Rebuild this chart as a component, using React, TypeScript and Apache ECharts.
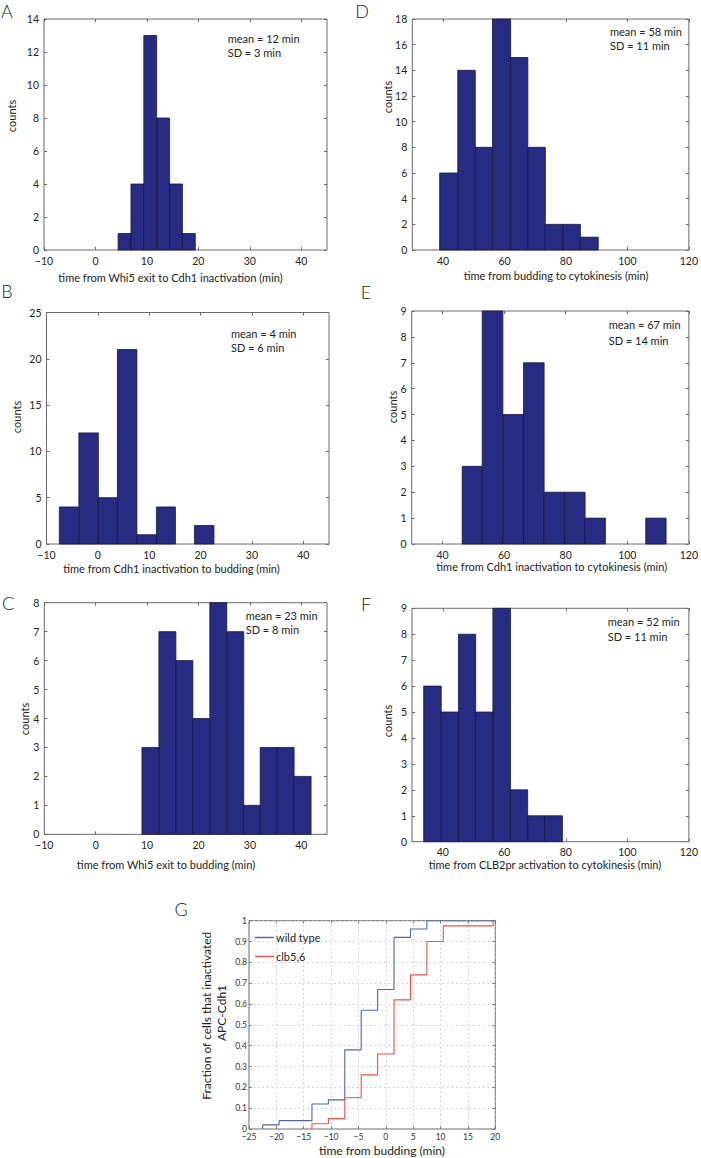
import React, { useEffect, useRef } from 'react';
import * as echarts from 'echarts';

const FONT = 'Lato, "Noto Sans", sans-serif';
const BAR = '#272c82';
const EDGE = '#15173f';
const SPINE = '#6a6a6a';
const TXT = '#222222';

// ---- histogram data (bin edges and counts) ----
const aEdges = [4.4, 6.9, 9.4, 11.9, 14.4, 16.9, 19.4];
const aCounts = [1, 4, 13, 8, 4, 1];
const bEdges = [-7.5, -3.7, 0.1, 3.8, 7.6, 11.4, 15.1, 18.8, 22.6];
const bCounts = [4, 12, 5, 21, 1, 4, 0, 2];
const cEdges = [9.0, 12.3, 15.6, 18.9, 22.2, 25.5, 28.8, 32.0, 35.3, 38.6, 41.9];
const cCounts = [3, 7, 6, 4, 8, 7, 1, 3, 3, 2];
const dEdges = [38.9, 44.8, 50.5, 56.1, 62.0, 67.6, 73.3, 79.0, 84.7, 90.5];
const dCounts = [6, 14, 8, 18, 15, 8, 2, 2, 1];
const eEdges = [46.4, 52.9, 59.6, 66.3, 73.0, 79.6, 86.3, 92.9, 99.4, 106.0, 112.6];
const eCounts = [3, 9, 5, 7, 2, 2, 1, 0, 0, 1];
const fEdges = [33.8, 39.5, 45.1, 50.7, 56.3, 62.0, 67.6, 73.1, 78.9];
const fCounts = [6, 5, 8, 5, 9, 2, 1, 1];

// tick labels
const leftXTicks = [-10, 0, 10, 20, 30, 40];
const rightXTicks = [40, 60, 80, 100, 120];

// panel G cumulative step data
const wtX = [-22.5, -22.5, -19.5, -13.5, -10.5, -7.5, -4.5, -1.5, 1.5, 4.5, 7.5, 20];
const wtY = [0, 0.02, 0.04, 0.12, 0.14, 0.38, 0.57, 0.67, 0.92, 0.96, 1.0, 1.0];
const clbX = [-13.5, -13.5, -10.5, -7.5, -4.5, -1.5, 1.5, 4.5, 7.5, 10.5, 19.6, 20];
const clbY = [0, 0.025, 0.05, 0.15, 0.26, 0.36, 0.62, 0.74, 0.9, 0.975, 1.0, 1.0];

const minus = (v: number) => String(v).replace('-', '\u2212');

type Panel = {
  edges: number[];
  counts: number[];
  grid: { left: number; top: number; width: number; height: number };
  xMin: number;
  xMax: number;
  xTicks: number[];
  yMax: number;
  yInterval: number;
};

const panels: Panel[] = [
  { edges: aEdges, counts: aCounts, grid: { left: 44, top: 19, width: 283, height: 231 }, xMin: -10, xMax: 45, xTicks: leftXTicks, yMax: 14, yInterval: 2 },
  { edges: bEdges, counts: bCounts, grid: { left: 46.5, top: 312.5, width: 282.5, height: 231.5 }, xMin: -10, xMax: 45, xTicks: leftXTicks, yMax: 25, yInterval: 5 },
  { edges: cEdges, counts: cCounts, grid: { left: 44.3, top: 602.7, width: 282.7, height: 231.6 }, xMin: -10, xMax: 45, xTicks: leftXTicks, yMax: 8, yInterval: 1 },
  { edges: dEdges, counts: dCounts, grid: { left: 412.3, top: 19, width: 279.4, height: 231 }, xMin: 30, xMax: 120, xTicks: rightXTicks, yMax: 18, yInterval: 2 },
  { edges: eEdges, counts: eCounts, grid: { left: 411.7, top: 311, width: 280.6, height: 233 }, xMin: 30, xMax: 120, xTicks: rightXTicks, yMax: 9, yInterval: 1 },
  { edges: fEdges, counts: fCounts, grid: { left: 412, top: 608.3, width: 277.3, height: 233.4 }, xMin: 30, xMax: 120, xTicks: rightXTicks, yMax: 9, yInterval: 1 },
];

function buildOption() {
  const grid: any[] = [];
  const xAxis: any[] = [];
  const yAxis: any[] = [];
  const series: any[] = [];

  const tick = { show: true, inside: true, length: 3, lineStyle: { color: SPINE, width: 1 } };
  const noLine = { show: false, onZero: false };

  panels.forEach((p, i) => {
    grid.push({ ...p.grid, show: true, borderColor: SPINE, borderWidth: 1, backgroundColor: 'transparent', z: 0 });
    xAxis.push({
      type: 'value', gridIndex: i, position: 'bottom', min: p.xMin, max: p.xMax,
      axisLine: noLine, splitLine: { show: false },
      axisTick: { ...tick, customValues: p.xTicks },
      axisLabel: { customValues: p.xTicks, formatter: minus, fontFamily: FONT, fontSize: 10.5, color: TXT, margin: 5 },
    });
    xAxis.push({
      type: 'value', gridIndex: i, position: 'top', min: p.xMin, max: p.xMax,
      axisLine: noLine, splitLine: { show: false },
      axisTick: { ...tick, customValues: p.xTicks }, axisLabel: { show: false },
    });
    yAxis.push({
      type: 'value', gridIndex: i, position: 'left', min: 0, max: p.yMax, interval: p.yInterval,
      axisLine: noLine, splitLine: { show: false }, axisTick: tick,
      axisLabel: { fontFamily: FONT, fontSize: 10.5, color: TXT, margin: 5 },
    });
    yAxis.push({
      type: 'value', gridIndex: i, position: 'right', min: 0, max: p.yMax, interval: p.yInterval,
      axisLine: noLine, splitLine: { show: false }, axisTick: tick, axisLabel: { show: false },
    });
    series.push({
      type: 'custom',
      xAxisIndex: 2 * i,
      yAxisIndex: 2 * i,
      clip: false,
      encode: { x: [0, 1], y: 2 },
      data: p.counts.map((c, k) => [p.edges[k], p.edges[k + 1], c]).filter((d) => d[2] > 0),
      renderItem: (params: any, api: any) => {
        const p0 = api.coord([api.value(0), api.value(2)]);
        const p1 = api.coord([api.value(1), 0]);
        return {
          type: 'rect',
          shape: { x: p0[0], y: p0[1], width: p1[0] - p0[0], height: p1[1] - p0[1] },
          style: { fill: BAR, stroke: EDGE, lineWidth: 0.8 },
        };
      },
    });
  });

  // Panel G
  const gi = panels.length;
  grid.push({ left: 249, top: 920.7, width: 246.3, height: 208.3, show: true, borderColor: SPINE, borderWidth: 1, backgroundColor: 'transparent' });
  const gSplit = { show: true, lineStyle: { color: '#bdbdbd', type: [1.5, 3], width: 0.8 } };
  const gTick = { show: true, inside: true, length: 3, lineStyle: { color: SPINE, width: 0.8 } };
  xAxis.push({
    type: 'value', gridIndex: gi, position: 'bottom', min: -25, max: 20, interval: 5,
    axisLine: noLine, splitLine: gSplit, axisTick: gTick,
    axisLabel: { formatter: minus, fontFamily: FONT, fontSize: 8.5, color: '#333', margin: 3 },
  });
  xAxis.push({
    type: 'value', gridIndex: gi, position: 'top', min: -25, max: 20, interval: 5,
    axisLine: noLine, splitLine: { show: false }, axisTick: gTick, axisLabel: { show: false },
  });
  yAxis.push({
    type: 'value', gridIndex: gi, position: 'left', min: 0, max: 1, interval: 0.1,
    axisLine: noLine, splitLine: gSplit, axisTick: gTick,
    axisLabel: { fontFamily: FONT, fontSize: 8.5, color: '#333', margin: 2 },
  });
  yAxis.push({
    type: 'value', gridIndex: gi, position: 'right', min: 0, max: 1, interval: 0.1,
    axisLine: noLine, splitLine: { show: false }, axisTick: gTick, axisLabel: { show: false },
  });
  series.push({
    name: 'wild type', type: 'line', step: 'end', xAxisIndex: 2 * gi, yAxisIndex: 2 * gi,
    data: wtX.map((x, k) => [x, wtY[k]]), symbol: 'none', showSymbol: false,
    lineStyle: { color: '#5066a8', width: 1.1 }, itemStyle: { color: '#5066a8' }, z: 5,
  });
  series.push({
    name: 'clb5,6', type: 'line', step: 'end', xAxisIndex: 2 * gi, yAxisIndex: 2 * gi,
    data: clbX.map((x, k) => [x, clbY[k]]), symbol: 'none', showSymbol: false,
    lineStyle: { color: '#e5524e', width: 1.1 }, itemStyle: { color: '#e5524e' }, z: 5,
  });

  const txt = (text: string, x: number, y: number, size: number, align = 'left', rot = 0, weight: any = 'normal') => ({
    type: 'text', x, y, rotation: rot, silent: true, z: 10,
    style: {
      text, fontSize: size, fontFamily: FONT, fontWeight: weight, fill: TXT,
      align, verticalAlign: 'middle', textAlign: align, textVerticalAlign: 'middle',
    },
  });

  const graphic: any[] = [
    // panel letters
    txt('A', 7, 11, 18, 'center', 0, 300),
    txt('D', 362, 11, 18, 'center', 0, 300),
    txt('B', 7, 291, 18, 'center', 0, 300),
    txt('E', 366, 291.5, 18, 'center', 0, 300),
    txt('C', 8, 602.5, 18, 'center', 0, 300),
    txt('F', 366, 604, 18, 'center', 0, 300),
    txt('G', 181, 909, 18, 'center', 0, 300),
    // mean / SD annotations
    txt('mean = 12 min', 227.7, 38.3, 11),
    txt('SD = 3 min', 227.7, 52.3, 11),
    txt('mean = 4 min', 231, 333.3, 11),
    txt('SD = 6 min', 231, 347.7, 11),
    txt('mean = 23 min', 245.7, 615.7, 11),
    txt('SD = 8 min', 245.7, 629.3, 11),
    txt('mean = 58 min', 610, 31, 11),
    txt('SD = 11 min', 610, 45, 11),
    txt('mean = 67 min', 608.7, 324.3, 11),
    txt('SD = 14 min', 608.7, 340, 11),
    txt('mean = 52 min', 607.7, 621, 11),
    txt('SD = 11 min', 607.7, 636.7, 11),
    // y titles
    txt('counts', 11.7, 116, 11, 'center', Math.PI / 2),
    txt('counts', 16, 417, 11, 'center', Math.PI / 2),
    txt('counts', 24, 719, 11, 'center', Math.PI / 2),
    txt('counts', 387, 97, 11, 'center', Math.PI / 2),
    txt('counts', 392, 407, 11, 'center', Math.PI / 2),
    txt('counts', 387, 721, 11, 'center', Math.PI / 2),
    // x titles
    txt('time from Whi5 exit to Cdh1 inactivation (min)', 170.5, 277, 11, 'center'),
    txt('time from Cdh1 inactivation to budding (min)', 171.5, 568, 11, 'center'),
    txt('time from Whi5 exit to budding (min)', 166, 864, 11, 'center'),
    txt('time from budding to cytokinesis (min)', 556, 275, 11, 'center'),
    txt('time from Cdh1 inactivation to cytokinesis (min)', 551.7, 566.7, 11, 'center'),
    txt('time from CLB2pr activation to cytokinesis (min)', 545, 864, 11, 'center'),
    // G titles
    txt('Fraction of cells that inactivated', 206.7, 1015.8, 12, 'center', Math.PI / 2),
    txt('APC-Cdh1', 221.7, 1013, 12, 'center', Math.PI / 2),
    txt('time from budding (min)', 382, 1150.7, 12, 'center'),
  ];

  return {
    animation: false,
    backgroundColor: '#ffffff',
    grid,
    xAxis,
    yAxis,
    series,
    graphic,
    legend: {
      data: [
        { name: 'wild type', icon: 'rect' },
        { name: 'clb5,6', icon: 'rect' },
      ],
      orient: 'vertical',
      left: 255,
      top: 932,
      itemWidth: 19,
      itemHeight: 1.5,
      itemGap: 8,
      padding: 0,
      selectedMode: false,
      textStyle: { fontFamily: FONT, fontSize: 11, color: TXT, padding: [0, 0, 0, -3] },
    },
  };
}

export default function App() {
  const ref = useRef<HTMLDivElement>(null);
  useEffect(() => {
    document.body.style.margin = '0';
    const chart = echarts.init(ref.current as HTMLDivElement, null, { renderer: 'svg' });
    chart.setOption(buildOption() as any);
    return () => chart.dispose();
  }, []);
  return <div ref={ref} style={{ width: 701, height: 1158 }} />;
}
